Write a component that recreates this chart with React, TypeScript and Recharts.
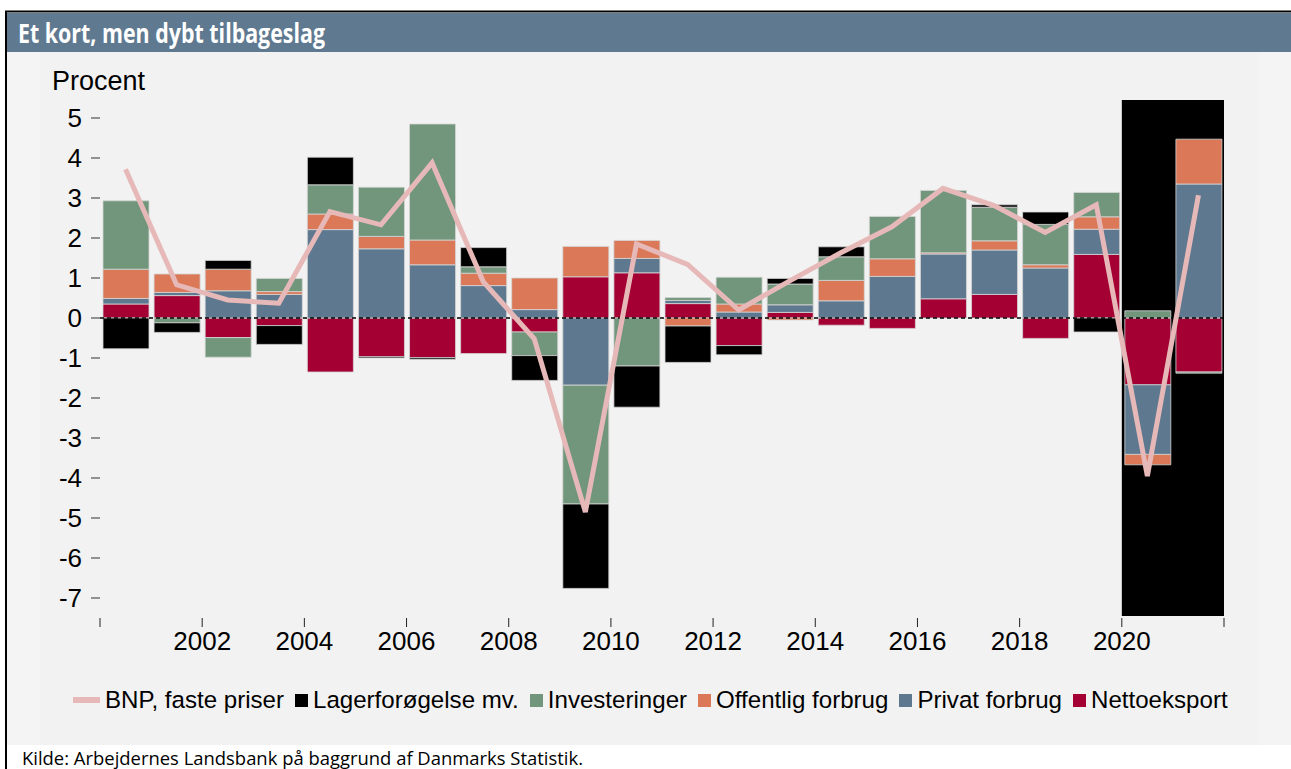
import { Bar, ComposedChart, Line, ReferenceArea, ReferenceLine, XAxis, YAxis } from "recharts";

const years = [2000, 2001, 2002, 2003, 2004, 2005, 2006, 2007, 2008, 2009, 2010, 2011, 2012, 2013, 2014, 2015, 2016, 2017, 2018, 2019, 2020, 2021];
const nettoeksport = [0.35, 0.56, -0.49, -0.19, -1.35, -0.97, -0.99, -0.89, -0.35, 1.03, 1.13, 0.36, -0.69, 0.14, -0.18, -0.26, 0.48, 0.59, -0.51, 1.59, -1.67, -1.35];
const privatForbrug = [0.14, 0.08, 0.68, 0.59, 2.21, 1.73, 1.33, 0.81, 0.21, -1.68, 0.36, 0.08, 0.15, 0.19, 0.43, 1.04, 1.12, 1.11, 1.25, 0.63, -1.74, 3.35];
const offentligForbrug = [0.73, 0.46, 0.54, 0.07, 0.39, 0.31, 0.62, 0.31, 0.79, 0.76, 0.45, -0.2, 0.2, -0.05, 0.51, 0.44, 0.03, 0.23, 0.08, 0.31, -0.26, 1.12];
const investeringer = [1.71, -0.12, -0.49, 0.33, 0.73, 1.23, 2.9, 0.16, -0.59, -2.97, -1.2, 0.07, 0.67, 0.52, 0.59, 1.06, 1.56, 0.84, 1.01, 0.61, 0.18, -0.03];
const lagerforoegelse = [-0.77, -0.24, 0.22, -0.47, 0.69, -0.03, -0.04, 0.48, -0.62, -2.11, -1.03, -0.91, -0.23, 0.14, 0.25, 0, 0, 0.06, 0.31, -0.35, 0, 0];
const bnp = [3.72, 0.83, 0.45, 0.37, 2.66, 2.33, 3.88, 0.91, -0.52, -4.85, 1.85, 1.34, 0.2, 0.93, 1.63, 2.28, 3.24, 2.81, 2.14, 2.83, -3.95, 3.07];

const yTicks = [-7, -6, -5, -4, -3, -2, -1, 0, 1, 2, 3, 4, 5];
const xTicks = [2000, 2002, 2004, 2006, 2008, 2010, 2012, 2014, 2016, 2018, 2020, 2022];
const crisisYears = [2020, 2022];

const C = {
  lager: "#000000",
  invest: "#71967B",
  offentlig: "#DA7857",
  privat: "#5E788F",
  netto: "#A50034",
  bnp: "#E6B9B8",
};

const legendItems = [
  { name: "BNP, faste priser", color: C.bnp, line: true },
  { name: "Lagerforøgelse mv.", color: C.lager },
  { name: "Investeringer", color: C.invest },
  { name: "Offentlig forbrug", color: C.offentlig },
  { name: "Privat forbrug", color: C.privat },
  { name: "Nettoeksport", color: C.netto },
];

const data = years.map((year, i) => ({
  x: year + 0.5,
  netto: nettoeksport[i],
  privat: privatForbrug[i],
  offentlig: offentligForbrug[i],
  invest: investeringer[i],
  lager: lagerforoegelse[i],
  bnp: bnp[i],
}));

const font = "'Liberation Sans', Arial, sans-serif";
const tickStyle = { fontSize: 26, fill: "#000", fontFamily: font };

export default function App() {
  return <div style={{ position: "absolute", left: 0, top: 0, width: 1291, height: 769, background: "#fff", overflow: "hidden" }}>
    <svg width={1291} height={769} style={{ position: "absolute", left: 0, top: 0 }}>
      <rect x={7} y={13} width={1284} height={39} fill="#5E7990" />
      <rect x={7} y={52} width={1284} height={693} fill="#F4F4F4" />
      <rect x={40} y={52} width={1218} height={693} fill="#F2F2F2" />
      <line x1={5} y1={11.5} x2={1291} y2={11.5} stroke="#000" strokeWidth={2} />
      <line x1={6} y1={11} x2={6} y2={769} stroke="#000" strokeWidth={2} />
      <text x={18} y={43} fill="#fff" fontFamily="'Open Sans', sans-serif" fontWeight={700} fontSize={26} textLength={307} lengthAdjust="spacingAndGlyphs">Et kort, men dybt tilbageslag</text>
      <text x={52} y={90} fill="#000" fontFamily={font} fontSize={27}>Procent</text>
      <text x={22} y={765} fill="#000" fontFamily="'Open Sans', sans-serif" fontSize={17.5} textLength={561} lengthAdjust="spacingAndGlyphs">Kilde: Arbejdernes Landsbank på baggrund af Danmarks Statistik.</text>
    </svg>
    <div style={{ position: "absolute", left: 0, top: 0 }}>
      <ComposedChart width={1291} height={769} data={data} stackOffset="sign" margin={{ top: 98, right: 67, bottom: 111, left: 0 }}>
        <ReferenceArea x1={crisisYears[0]} x2={crisisYears[1]} y1={-7.45} y2={5.45} fill="#000" fillOpacity={1} stroke="none" />
        <XAxis type="number" dataKey="x" domain={[2000, 2022]} ticks={xTicks} interval={0} axisLine={false} tickSize={9} tickMargin={5} height={40}
          tickLine={{ stroke: "#222", strokeWidth: 1 }} tick={tickStyle} tickFormatter={(v: number) => (v === 2000 || v === 2022 ? "" : String(v))} />
        <YAxis type="number" domain={[-7.5, 5.5]} ticks={yTicks} interval={0} axisLine={false} tickSize={9} tickMargin={9} width={100}
          tickLine={{ stroke: "#333", strokeWidth: 1 }} tick={tickStyle} />
        <Bar dataKey="netto" stackId="s" fill={C.netto} barSize={46} stroke="#d6d6d6" strokeWidth={0.8} isAnimationActive={false} />
        <Bar dataKey="privat" stackId="s" fill={C.privat} barSize={46} stroke="#d6d6d6" strokeWidth={0.8} isAnimationActive={false} />
        <Bar dataKey="offentlig" stackId="s" fill={C.offentlig} barSize={46} stroke="#d6d6d6" strokeWidth={0.8} isAnimationActive={false} />
        <Bar dataKey="invest" stackId="s" fill={C.invest} barSize={46} stroke="#d6d6d6" strokeWidth={0.8} isAnimationActive={false} />
        <Bar dataKey="lager" stackId="s" fill={C.lager} barSize={46} stroke="#d6d6d6" strokeWidth={0.8} isAnimationActive={false} />
        <ReferenceLine y={0} stroke="#000" strokeWidth={1.5} strokeDasharray="4 3" />
        <Line type="linear" dataKey="bnp" stroke={C.bnp} strokeWidth={5} dot={false} activeDot={false} isAnimationActive={false} />
      </ComposedChart>
    </div>
    <div style={{ position: "absolute", left: 73, top: 686, display: "flex", alignItems: "center", fontFamily: font, fontSize: 24.1, lineHeight: "28px", color: "#000", whiteSpace: "nowrap" }}>
      {legendItems.map((item) => <div key={item.name} style={{ display: "flex", alignItems: "center", marginRight: 11 }}>
        <span style={{ display: "inline-block", width: item.line ? 27 : 13, height: item.line ? 6 : 13, background: item.color, marginRight: 5 }} />
        <span>{item.name}</span>
      </div>)}
    </div>
  </div>;
}
